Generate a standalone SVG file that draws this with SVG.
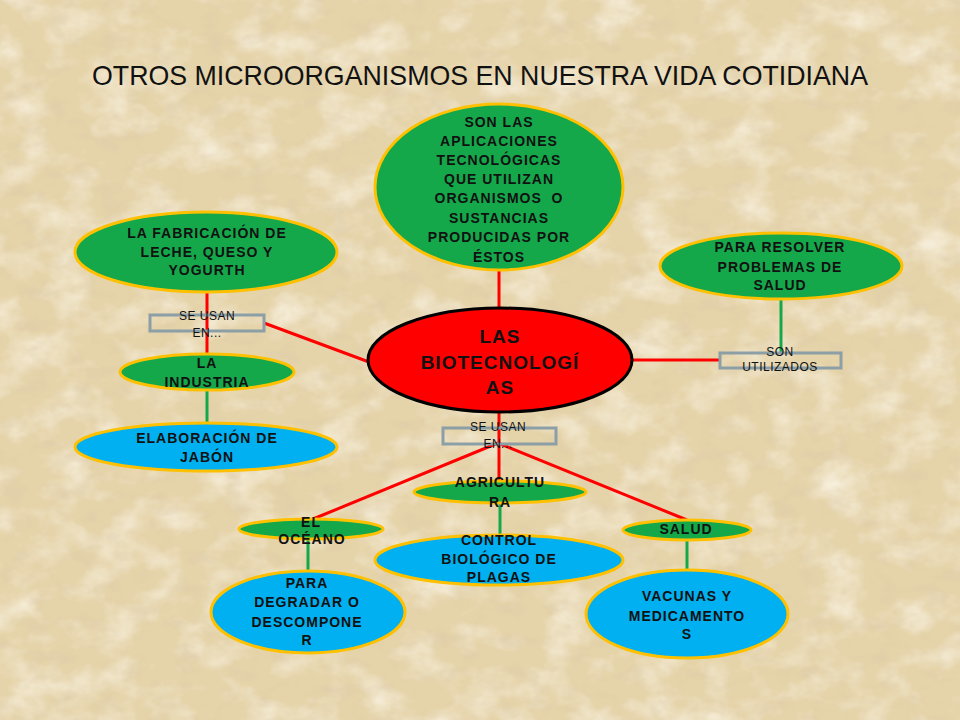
<svg xmlns="http://www.w3.org/2000/svg" width="960" height="720" viewBox="0 0 960 720">
<defs>
<filter id="tex" x="0" y="0" width="100%" height="100%">
<feTurbulence type="fractalNoise" baseFrequency="0.022 0.03" numOctaves="4" seed="7" result="n"/>
<feColorMatrix in="n" type="matrix" values="0 0 0 0 1  0 0 0 0 0.97  0 0 0 0 0.9  0 0 0 1.4 -0.62"/>
</filter>
<filter id="tex2" x="0" y="0" width="100%" height="100%">
<feTurbulence type="fractalNoise" baseFrequency="0.04 0.06" numOctaves="3" seed="2" result="n"/>
<feColorMatrix in="n" type="matrix" values="0 0 0 0 0.72  0 0 0 0 0.6  0 0 0 0 0.4  0 0 0 1.5 -0.76"/>
</filter>
<style>
.t{font-family:"Liberation Sans",Arial,sans-serif;font-weight:bold;font-size:14px;fill:#111;text-anchor:middle;letter-spacing:1px}
.s{font-family:"Liberation Sans",Arial,sans-serif;font-size:12px;fill:#111;text-anchor:middle;letter-spacing:0.5px}
.c{font-family:"Liberation Sans",Arial,sans-serif;font-weight:bold;font-size:19px;fill:#111;text-anchor:middle;letter-spacing:1px}
.g{fill:#14A84B;stroke:#FFC000;stroke-width:3}
.b{fill:#00B0F0;stroke:#FFC000;stroke-width:3}
.r{fill:#FF0000;stroke:#000;stroke-width:3}
.box{fill:none;stroke:#8C9EA6;stroke-width:3}
.lr{stroke:#FF0000;stroke-width:3;fill:none}
.lg{stroke:#14A84B;stroke-width:3;fill:none}
</style>
</defs>
<rect width="960" height="720" fill="#E5D3A9"/>
<rect width="960" height="720" filter="url(#tex)"/>
<rect width="960" height="720" filter="url(#tex2)"/>
<text x="480" y="85" font-family="'Liberation Sans',Arial,sans-serif" font-size="28" fill="#111" text-anchor="middle" textLength="776" lengthAdjust="spacingAndGlyphs">OTROS MICROORGANISMOS EN NUESTRA VIDA COTIDIANA</text>
<g id="connectors">
<line class="lr" x1="499" y1="271" x2="499" y2="309"/>
<line class="lr" x1="207" y1="292" x2="207" y2="354"/>
<line class="lr" x1="264" y1="323" x2="369" y2="362"/>
<line class="lr" x1="631" y1="360" x2="720" y2="360"/>
<line class="lr" x1="499" y1="412" x2="499" y2="482"/>
<line class="lr" x1="498" y1="443" x2="313" y2="519"/>
<line class="lr" x1="498" y1="443" x2="687" y2="520"/>
<line class="lg" x1="207" y1="391" x2="207" y2="423"/>
<line class="lg" x1="781" y1="299" x2="781" y2="353"/>
<line class="lg" x1="308" y1="540" x2="308" y2="571"/>
<line class="lg" x1="500" y1="503" x2="500" y2="536"/>
<line class="lg" x1="687" y1="541" x2="687" y2="571"/>
</g>
<g id="n-definicion">
<ellipse class="g" cx="499" cy="187" rx="124" ry="83"/>
<text class="t" x="499" y="127">SON LAS</text>
<text class="t" x="499" y="146">APLICACIONES</text>
<text class="t" x="499" y="165">TECNOLÓGICAS</text>
<text class="t" x="499" y="184">QUE UTILIZAN</text>
<text class="t" x="499" y="203" xml:space="preserve">ORGANISMOS  O</text>
<text class="t" x="499" y="223">SUSTANCIAS</text>
<text class="t" x="499" y="242">PRODUCIDAS POR</text>
<text class="t" x="499" y="262">ÉSTOS</text>
</g>
<g id="n-fabricacion">
<ellipse class="g" cx="206" cy="252" rx="131" ry="40"/>
<text class="t" x="207" y="238">LA FABRICACIÓN DE</text>
<text class="t" x="207" y="257">LECHE, QUESO Y</text>
<text class="t" x="207" y="275">YOGURTH</text>
</g>
<g id="n-seusan1">
<rect class="box" x="150" y="315" width="114" height="16"/>
<text class="s" x="207" y="320">SE USAN</text>
<text class="s" x="207" y="337">EN...</text>
</g>
<g id="n-industria">
<ellipse class="g" cx="207" cy="372" rx="87" ry="18"/>
<text class="t" x="207" y="368">LA</text>
<text class="t" x="207" y="387">INDUSTRIA</text>
</g>
<g id="n-jabon">
<ellipse class="b" cx="206" cy="447" rx="131" ry="24"/>
<text class="t" x="207" y="443">ELABORACIÓN DE</text>
<text class="t" x="207" y="462">JABÓN</text>
</g>
<g id="n-biotec">
<ellipse class="r" cx="500" cy="360" rx="132" ry="52"/>
<text class="c" x="500" y="343">LAS</text>
<text class="c" x="500" y="369">BIOTECNOLOGÍ</text>
<text class="c" x="500" y="394">AS</text>
</g>
<g id="n-salud-prob">
<ellipse class="g" cx="781" cy="266" rx="121" ry="33"/>
<text class="t" x="780" y="252">PARA RESOLVER</text>
<text class="t" x="780" y="272">PROBLEMAS DE</text>
<text class="t" x="780" y="290">SALUD</text>
</g>
<g id="n-utilizados">
<rect class="box" x="720" y="353" width="121" height="15"/>
<text class="s" x="780" y="356">SON</text>
<text class="s" x="780" y="371">UTILIZADOS</text>
</g>
<g id="n-seusan2">
<rect class="box" x="443" y="428" width="113" height="16"/>
<text class="s" x="498" y="431">SE USAN</text>
<text class="s" x="498" y="448">EN...</text>
</g>
<g id="n-agricultura">
<ellipse class="g" cx="500" cy="492" rx="86" ry="11"/>
<text class="t" x="500" y="487">AGRICULTU</text>
<text class="t" x="500" y="507">RA</text>
</g>
<g id="n-oceano">
<ellipse class="g" cx="311" cy="529" rx="72" ry="10"/>
<text class="t" x="311" y="527">EL</text>
<text class="t" x="312" y="544">OCÉANO</text>
</g>
<g id="n-salud">
<ellipse class="g" cx="687" cy="530" rx="64" ry="10"/>
<text class="t" x="686" y="534">SALUD</text>
</g>
<g id="n-control">
<ellipse class="b" cx="499" cy="560" rx="124" ry="25"/>
<text class="t" x="499" y="545">CONTROL</text>
<text class="t" x="499" y="564">BIOLÓGICO DE</text>
<text class="t" x="499" y="582">PLAGAS</text>
</g>
<g id="n-degradar">
<ellipse class="b" cx="308" cy="612" rx="97" ry="41"/>
<text class="t" x="307" y="588">PARA</text>
<text class="t" x="307" y="607">DEGRADAR O</text>
<text class="t" x="307" y="627">DESCOMPONE</text>
<text class="t" x="307" y="645">R</text>
</g>
<g id="n-vacunas">
<ellipse class="b" cx="687" cy="614" rx="101" ry="44"/>
<text class="t" x="687" y="601">VACUNAS Y</text>
<text class="t" x="687" y="621">MEDICAMENTO</text>
<text class="t" x="687" y="639">S</text>
</g>
</svg>
